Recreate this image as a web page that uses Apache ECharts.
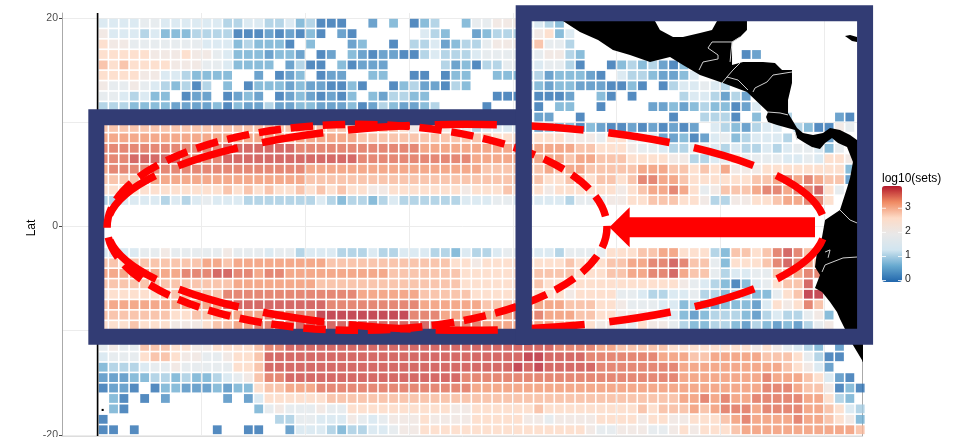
<!DOCTYPE html>
<html>
<head>
<meta charset="utf-8">
<style>
html,body{margin:0;padding:0;background:#fff}
#main{width:961px;height:437px}
</style>
</head>
<body>
<div id="main"></div>
<script src="https://cdn.jsdelivr.net/npm/echarts@6/dist/echarts.min.js"></script>
<script>
// cell centres, degrees
var lats = [20.5,19.5,18.5,17.5,16.5,15.5,14.5,13.5,12.5,11.5,10.5,9.5,8.5,7.5,6.5,5.5,4.5,3.5,2.5,1.5,0.5,
  -0.5,-1.5,-2.5,-3.5,-4.5,-5.5,-6.5,-7.5,-8.5,-9.5,-10.5,-11.5,-12.5,-13.5,-14.5,-15.5,-16.5,-17.5,-18.5,-19.5];
var lons = [-149.5,-148.5,-147.5,-146.5,-145.5,-144.5,-143.5,-142.5,-141.5,-140.5,-139.5,-138.5,-137.5,-136.5,-135.5,
  -134.5,-133.5,-132.5,-131.5,-130.5,-129.5,-128.5,-127.5,-126.5,-125.5,-124.5,-123.5,-122.5,-121.5,-120.5,-119.5,
  -118.5,-117.5,-116.5,-115.5,-114.5,-113.5,-112.5,-111.5,-110.5,-109.5,-108.5,-107.5,-106.5,-105.5,-104.5,-103.5,
  -102.5,-101.5,-100.5,-99.5,-98.5,-97.5,-96.5,-95.5,-94.5,-93.5,-92.5,-91.5,-90.5,-89.5,-88.5,-87.5,-86.5,-85.5,
  -84.5,-83.5,-82.5,-81.5,-80.5,-79.5,-78.5,-77.5,-76.5];

// log10(sets), one char per cell, '.' = no cell
var levelChars = '0123456789abc';
var levelValues = [0,0.3,0.62,0.95,1.3,1.7,2.1,2.6,2.88,3.16,3.42,3.64,3.86];
var valueRows = [
  "77767777777777776665332330021233422577777",
  "444455444444334433423000..1.2.023..2556664432",
  "6444342223333000101020.10......432..1233356724",
  "7665555555444232220.2...12..0.3341233566678553",
  "77777666766542221221.01.21011003433345555556632...............01",
  "87877776665542222.1300.20111.....31203355445530..02323102",
  "7777664432222..1.012.011..22..00.022..22233122210.43321124",
  "65565432303.2.022212110020..02311032.....321221110020.0344543",
  "5543422.011.0121.01210102.213322......000.0001..20.0....3443131",
  "333222211112021131122111201321123....0....0.22..0....11212322014",
  "..........................................11..0........0..3330.2..3....10.",
  "88888888888888888888888888888" + "7676655344444" + "1222021001010101.4321344.320065.",
  "9999999999999999999999999" + "8888888888888" + "7777" + "7776665775541120145234443...15..",
  "aaaaaaaaaaaa" + "bbbbbbb" + "aaaaaaaaaaaa" + "99999999999" + "9999887776" + "55433554343343455425" + "..",
  "aaabbbbbaaaabbbbbbbbbbbbbaaaaaaaaaaa999999" + "9998998887777663345755554454776.",
  "9aaaaaaaaaaaaaaaaaaa9999999999999999988888" + "8989988888999887879666777777772.",
  "8888" + "9999999999999999" + "8888888888888888888888" + "8778878878aa998777777889a9a9881.",
  "777777777777878787787878776677777776777877" + "7677777767899a97568889aa9aab75..",
  "3344443434544433333334323" + "32343333334445544" + "44435556677888776336677899aa7",
  "",
  "",
  "",
  "",
  "444455655555655545534443334334443324334554443" + "55557778899777328878aba8",
  "887888888899899999999988888888888877677777" + "7778777889" + "9aaba88527778aba98",
  "99999999aaabbaa9aa9999999999888888877777778888777889" + "9aab988534455889aa",
  "88888888888889999999988888888888888" + "7777777" + "8777777777777" + "7654320245788b",
  "777777888888aaaaaaaaaaaaa99999988888777777" + "7776777755" + "4334453323322578cc",
  "899999999999bbbbbbbbbbaaaaaaaaa99999988888" + "9998887765" + "5544232122214767a8",
  "8888888" + "77888" + "9999" + "aaaaa" + "ccccccccc" + "aaa" + "9999999" + "a9" + "a999887766" + "6654212333213433562",
  "777877766678899aaaa" + "bbbbbbbbbbbbbbb" + "aaa" + "9999999" + "88776655" + "7665322332132121356",
  "",
  "56558887766" + "77778aa" + "bbbbbbbbbbbbbbbbbbbbbbbb" + "bbaaaa9988" + "888777777776765432.1..",
  "4555788766556778" + "bbbbbbbbbbbbbbbbbbbbbbbb" + "bc" + "cbbbbaaaaa" + "aa999889999988875300..",
  "2333455655555778" + "bbbbbbbbbbbbbbbbbbbbbbbb" + "cb" + "cbbbbbaaaa" + "aaaa999999999987641...",
  "1112233232234568aa" + "bbbbbbbbbbbbbbbbb" + "aaaaaaaaaaaaaaaaa" + "aaaa99999999a99987410.",
  "0110.0221112122788999" + "aaaaaaaaaaaaaaa" + "9999999999999999999999999999" + "aaa9886020",
  ".20.0.1.....1.14777777" + "888888888888888888888888888888" + "888899a9a99aaaaa99732.",
  ".20............2565556557" + "777777777" + "66777777" + "8777777777" + "87888989aaa9aaaa998743",
  "0................33554446" + "5456" + "6676666777776" + "6566667777" + "6776677789a9999a998762",
  "00.0.......0..00..14443233" + "44566" + "7777777777777777" + "655666" + "556767778" + "999999999998."
];

// land outlines and borders, [lon, lat]
var landShapes = [
  [[-105.16,20],[-105.16,19.71],[-103.52,18.66],[-101.78,17.89],[-100.34,16.93],[-98.7,16.45],[-96.77,15.78],[-94.84,16.26],
   [-93.59,15.49],[-91.95,14.53],[-89.73,13.76],[-87.42,12.9],[-85.39,10.98],[-85.58,10.5],[-85.39,10.02],[-84.52,9.74],
   [-82.79,9.26],[-82.59,8.49],[-81.82,8.01],[-81.15,7.63],[-80.38,7.43],[-79.89,8.01],[-79.22,8.49],[-78.64,8.01],
   [-77.77,7.63],[-77.2,6.19],[-77.48,4.65],[-77.77,3.69],[-78.45,1.58],[-79.89,0.62],[-80.18,-1.01],[-80.67,-2.45],
   [-80.86,-3.88],[-80.38,-4.65],[-80.86,-5.9],[-80.18,-6.28],[-79.41,-7.24],[-78.74,-8.2],[-78.45,-8.87],[-77.97,-9.83],
   [-77.2,-11.37],[-76.33,-12.81],[-76.26,-13],[-76,-13],[-76,8.3],[-76.81,8.3],[-77.48,8.78],[-78.45,9.26],[-79.41,9.45],
   [-80.09,8.97],[-81.05,8.78],[-82.02,8.97],[-82.59,9.45],[-83.46,10.89],[-83.46,12.13],[-83.08,13.76],[-83.08,15.01],
   [-84.04,15.01],[-84.72,15.68],[-85.87,15.78],[-87.8,15.78],[-88.86,15.49],[-88.86,17.7],[-88.09,18.18],[-87.42,18.85],
   [-87.42,20],[-90.31,20],[-90.31,19.71],[-90.79,18.85],[-91.95,18.56],[-93.59,18.18],[-94.55,18.18],[-95.81,18.85],
   [-96.29,19.71],[-96.29,20]],
  [[-77.97,18.27],[-77.48,18.37],[-76.81,18.18],[-76.81,17.7],[-77.29,17.79]],
  [[-149.65,-17.5],[-149.45,-17.5],[-149.45,-17.7],[-149.65,-17.7]]
];
var borderLines = [
  [[-92.04,15.01],[-91.66,15.78],[-90.21,16.07],[-90.21,16.45],[-91.18,17.12],[-90.79,17.7],[-88.86,17.7],[-89.05,15.78]],
  [[-88.86,17.7],[-88.09,18.18]],
  [[-88.09,15.68],[-88.77,15.01],[-89.35,14.34],[-89.83,13.76]],
  [[-89.35,14.34],[-88.28,14.05],[-87.32,13.09]],
  [[-83.08,14.82],[-84.91,14.53],[-85.49,13.86],[-86.64,13.29],[-86.84,12.9]],
  [[-85.39,10.98],[-84.23,10.89],[-83.46,10.7]],
  [[-82.79,8.97],[-82.59,8.3]],
  [[-78.45,1.58],[-77.48,0.62],[-76.81,0.34]],
  [[-80.18,-4.36],[-79.89,-3.69],[-78.16,-3.02],[-76.81,-2.93]],
  [[-79.89,-2.45],[-79.41,-2.25],[-79.6,-3]]
];

// annotations drawn over the map
var leftBox = [[-150.16,10.47],[-108.95,10.47],[-108.95,-10.57],[-150.16,-10.57]];
var rightBox = [[-108.95,20.45],[-76.03,20.45],[-76.03,-10.57],[-108.95,-10.57]];
var arrowShape = [[-100.69,-0.08],[-98.73,1.84],[-98.73,0.88],[-80.86,0.88],[-80.86,-1.03],[-98.73,-1.03],[-98.73,-1.99]];
var bigEllipse = { lon: -114.51, lat: -0.08, rLon: 34.62, rLat: 9.88 };
var smallEllipse = { lon: -125.02, lat: -0.08, rLon: 24.1, rLat: 9.88 };

var cells = [];
valueRows.forEach(function (row, r) {
  row = row.padEnd(lons.length, '.');
  for (var c = 0; c < lons.length; c++) {
    var k = levelChars.indexOf(row[c]);
    if (k >= 0) cells.push([lons[c], lats[r], levelValues[k]]);
  }
});

function overlay(z, clip, build) {
  return {
    type: 'custom',
    coordinateSystem: 'cartesian2d',
    silent: true,
    clip: clip,
    z: z,
    data: [[-100, 0]],
    renderItem: function (params, api) {
      return { type: 'group', children: build(api) };
    }
  };
}
function pts(api, list) {
  return list.map(function (p) { return api.coord(p); });
}
function dashedEllipse(api, e, dash, offset) {
  var c = api.coord([e.lon, e.lat]);
  var s = api.size([e.rLon, e.rLat]);
  return {
    type: 'ellipse',
    shape: { cx: c[0], cy: c[1], rx: s[0], ry: s[1] },
    style: { fill: 'none', stroke: '#ff0000', lineWidth: 7.5, lineDash: dash, lineDashOffset: offset }
  };
}

var legendTicks = [['3', 207.8], ['2', 231.9], ['1', 256], ['0', 280]];
var legendGraphic = [{
  type: 'text', left: 882, top: 173, z: 20,
  style: { text: 'log10(sets)', fontFamily: 'Liberation Sans', fontSize: 12, fill: '#000' }
}, {
  // axis title, the axis name would not move away from the tick labels
  type: 'text', x: 32, y: 228, rotation: Math.PI / 2, z: 20,
  style: { text: 'Lat', align: 'center', verticalAlign: 'middle', fontFamily: 'Liberation Sans', fontSize: 12, fill: '#000' }
}];
legendTicks.forEach(function (t) {
  legendGraphic.push({
    type: 'text', left: 905, top: t[1] - 6, z: 20,
    style: { text: t[0], fontFamily: 'Liberation Sans', fontSize: 10.5, fill: '#222' }
  });
  legendGraphic.push({ type: 'rect', left: 882, top: t[1], z: 20, shape: { width: 4, height: 0.8 }, style: { fill: '#fff' } });
  legendGraphic.push({ type: 'rect', left: 898, top: t[1], z: 20, shape: { width: 4, height: 0.8 }, style: { fill: '#fff' } });
});

var myChart = echarts.init(document.getElementById('main'));
var option = {
  animation: false,
  backgroundColor: '#fff',
  grid: { left: 62, top: 13, width: 800.7, height: 423, outerBoundsMode: 'none' },
  xAxis: {
    type: 'value',
    min: -153.47,
    max: -76.26,
    axisLine: { show: true, onZero: false, lineStyle: { color: '#dddddd' } },
    axisLabel: { show: false },
    axisTick: { show: false, customValues: [-150,-140,-130,-120,-110,-100,-90,-80] },
    splitLine: { show: true, lineStyle: { color: '#ececec', width: 1 } }
  },
  yAxis: [{
    type: 'value',
    position: 'right',
    min: -20.1,
    max: 20.48,
    axisLine: { show: true, onZero: false, lineStyle: { color: '#aaaaaa' } },
    axisLabel: { show: false },
    axisTick: { show: false, customValues: [-20,-10,0,10,20] },
    splitLine: { show: true, lineStyle: { color: '#ececec', width: 1 } }
  }, {
    type: 'value',
    position: 'left',
    min: -20.1,
    max: 20.48,
    axisLine: { show: true, onZero: false, lineStyle: { color: '#aaaaaa' } },
    axisLabel: { color: '#4d4d4d', fontFamily: 'Liberation Sans', fontSize: 10.5, margin: 4, customValues: [-20,0,20] },
    axisTick: { show: true, length: 3, lineStyle: { color: '#444' }, customValues: [-20,0,20] },
    splitLine: { show: false }
  }],
  visualMap: {
    type: 'continuous',
    seriesIndex: 0,
    dimension: 2,
    min: -0.08,
    max: 3.9,
    left: 882,
    top: 186,
    padding: 0,
    itemWidth: 20,
    itemHeight: 96,
    calculable: false,
    hoverLink: false,
    text: null,
    inRange: { color: ['#2166AC','#67A9CF','#D1E5F0','#E9E8E8','#FDDBC7','#EF8A62','#B2182B'] }
  },
  graphic: legendGraphic,
  series: [{
    type: 'scatter',
    data: cells,
    symbol: 'rect',
    symbolSize: 8.8,
    silent: true,
    clip: true,
    z: 2
  },
  overlay(3, true, function (api) {
    var a = api.coord([-150.04, 20.48]), b = api.coord([-150.04, -20.1]);
    var items = [{
      type: 'line',
      shape: { x1: a[0], y1: a[1], x2: b[0], y2: b[1] },
      style: { stroke: '#000', lineWidth: 1.6 }
    }];
    landShapes.forEach(function (s) {
      items.push({ type: 'polygon', shape: { points: pts(api, s) }, style: { fill: '#000' } });
    });
    borderLines.forEach(function (s) {
      items.push({ type: 'polyline', shape: { points: pts(api, s) }, style: { fill: 'none', stroke: '#cfcfcf', lineWidth: 1 } });
    });
    return items;
  }),
  overlay(4, false, function (api) {
    return [{ type: 'polygon', shape: { points: pts(api, leftBox) }, style: { fill: 'none', stroke: '#323C74', lineWidth: 16 } }];
  }),
  overlay(5, false, function (api) {
    return [
      dashedEllipse(api, bigEllipse, [62, 24.9], 74.45),
      dashedEllipse(api, smallEllipse, [22.5, 9.7], 2.6),
      { type: 'polygon', shape: { points: pts(api, arrowShape) }, style: { fill: '#ff0000' } }
    ];
  }),
  overlay(6, false, function (api) {
    return [{ type: 'polygon', shape: { points: pts(api, rightBox) }, style: { fill: 'none', stroke: '#323C74', lineWidth: 16 } }];
  })]
};

option && myChart.setOption(option);
</script>
</body>
</html>
